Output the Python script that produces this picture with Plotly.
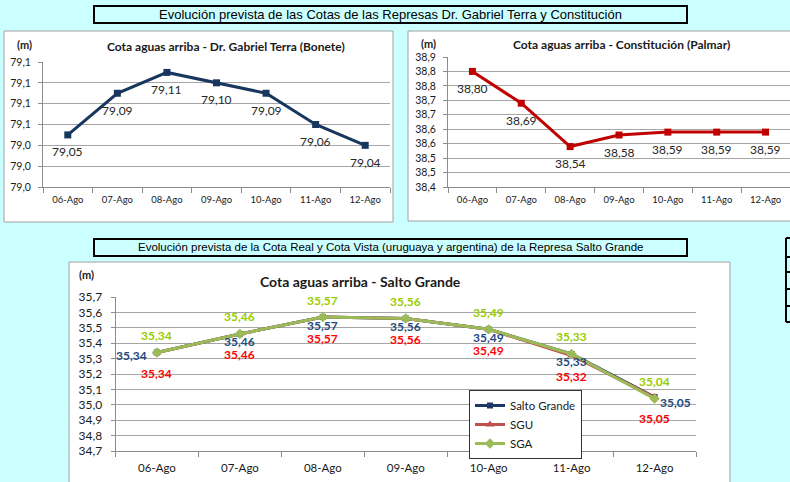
import plotly.graph_objects as go

W, H = 790, 482

# ---------------- data ----------------
DATES = ["06-Ago", "07-Ago", "08-Ago", "09-Ago", "10-Ago", "11-Ago", "12-Ago"]

BONETE = [79.05, 79.09, 79.11, 79.10, 79.09, 79.06, 79.04]
BONETE_TICKS = [79.00, 79.02, 79.04, 79.06, 79.08, 79.10, 79.12]
BONETE_TICK_LABELS = ["79,0", "79,0", "79,0", "79,1", "79,1", "79,1", "79,1"]

PALMAR = [38.80, 38.69, 38.54, 38.58, 38.59, 38.59, 38.59]
PALMAR_TICKS = [38.40, 38.45, 38.50, 38.55, 38.60, 38.65, 38.70, 38.75, 38.80, 38.85]
PALMAR_TICK_LABELS = ["38,4", "38,5", "38,5", "38,6", "38,6", "38,7", "38,7", "38,8", "38,8", "38,9"]

SALTO_GRANDE = [35.34, 35.46, 35.57, 35.56, 35.49, 35.33, 35.05]
SGU = [35.34, 35.46, 35.57, 35.56, 35.49, 35.32, 35.05]
SGA = [35.34, 35.46, 35.57, 35.56, 35.49, 35.33, 35.04]
SALTO_TICKS = [34.7, 34.8, 34.9, 35.0, 35.1, 35.2, 35.3, 35.4, 35.5, 35.6, 35.7]
SALTO_TICK_LABELS = ["34,7", "34,8", "34,9", "35,0", "35,1", "35,2", "35,3", "35,4", "35,5", "35,6", "35,7"]

TITLE_TOP = "Evolución prevista de las Cotas de las Represas Dr. Gabriel Terra y Constitución"
TITLE_BOTTOM = "Evolución prevista de la Cota Real y Cota Vista (uruguaya y argentina) de la Represa Salto Grande"
TITLE_BONETE = "Cota aguas arriba - Dr. Gabriel Terra (Bonete)"
TITLE_PALMAR = "Cota aguas arriba - Constitución (Palmar)"
TITLE_SALTO = "Cota aguas arriba - Salto Grande"

# ---------------- style ----------------
BG = "#CCFFFF"
GRID = "#A6A6A6"
AXIS = "#8C8C8C"
FONT = "Lato"
ARIAL = "Liberation Sans"


def px(x):
    return x / W


def py(y):
    return 1 - y / H


def fmt(v):
    return f"{v:.2f}".replace(".", ",")


fig = go.Figure()

fig.add_trace(go.Scatter(
    x=DATES, y=BONETE, mode="lines+markers", xaxis="x", yaxis="y",
    line=dict(color="#17375E", width=3), marker=dict(symbol="square", size=7),
    showlegend=False, cliponaxis=False, hoverinfo="skip"))
fig.add_trace(go.Scatter(
    x=DATES, y=PALMAR, mode="lines+markers", xaxis="x2", yaxis="y2",
    line=dict(color="#C00000", width=3), marker=dict(symbol="square", size=7),
    showlegend=False, cliponaxis=False, hoverinfo="skip"))
fig.add_trace(go.Scatter(
    x=DATES, y=SALTO_GRANDE, mode="lines+markers", xaxis="x3", yaxis="y3", name="Salto Grande",
    line=dict(color="#1F3864", width=3), marker=dict(symbol="square", size=6),
    cliponaxis=False, hoverinfo="skip"))
fig.add_trace(go.Scatter(
    x=DATES, y=SGU, mode="lines+markers", xaxis="x3", yaxis="y3", name="SGU",
    line=dict(color="#C0504D", width=3), marker=dict(symbol="triangle-up", size=8),
    cliponaxis=False, hoverinfo="skip"))
fig.add_trace(go.Scatter(
    x=DATES, y=SGA, mode="lines+markers", xaxis="x3", yaxis="y3", name="SGA",
    line=dict(color="#9BBB59", width=3), marker=dict(symbol="diamond", size=8),
    cliponaxis=False, hoverinfo="skip"))


def xax(domain, anchor, size, standoff):
    return dict(domain=domain, anchor=anchor, type="category", categoryorder="array",
                categoryarray=DATES, range=[-0.5, 6.5], tickson="boundaries",
                ticks="outside", ticklen=5, tickcolor=AXIS, showline=True, linecolor=AXIS,
                linewidth=1, showgrid=False, zeroline=False, fixedrange=True, automargin=False,
                tickfont=dict(family=FONT, size=size, color="#1a1a1a"),
                ticklabelstandoff=standoff)


def yax(domain, anchor, rng, vals, labels, size, standoff):
    return dict(domain=domain, anchor=anchor, range=rng, tickmode="array", tickvals=vals,
                ticktext=labels, ticks="outside", ticklen=4, tickcolor=AXIS, showline=True,
                linecolor=AXIS, linewidth=1, showgrid=True, gridcolor=GRID, gridwidth=1,
                zeroline=False, fixedrange=True, automargin=False,
                tickfont=dict(family=FONT, size=size, color="#1a1a1a"),
                ticklabelstandoff=standoff)


layout = dict(
    width=W, height=H, margin=dict(l=0, r=0, t=0, b=0, autoexpand=False),
    paper_bgcolor=BG, plot_bgcolor="white",
    separators=",.",
    xaxis=xax([px(43), px(390)], "y", 9.5, 4),
    yaxis=yax([py(187), py(62)], "x", [79.00, 79.12], BONETE_TICKS, BONETE_TICK_LABELS, 10.5, 5),
    xaxis2=xax([px(448), 1.0], "y2", 9.5, 4),
    yaxis2=yax([py(187), py(57)], "x2", [38.40, 38.85], PALMAR_TICKS, PALMAR_TICK_LABELS, 10.5, 5),
    xaxis3=xax([px(115.5), px(696)], "y3", 11.5, 6),
    yaxis3=yax([py(451), py(297)], "x3", [34.7, 35.7], SALTO_TICKS, SALTO_TICK_LABELS, 12, 6),
    legend=dict(x=px(469), y=py(390), xanchor="left", yanchor="top",
                bgcolor="white", bordercolor="#333333", borderwidth=1,
                font=dict(family=FONT, size=11.5, color="#1a1a1a"),
                tracegroupgap=0, itemwidth=30),
)

shapes = []
# chart boxes
for (x0, y0, x1, y1) in [(4, 31, 393, 222), (408, 31, 795, 221), (69, 262, 730, 490)]:
    shapes.append(dict(type="rect", xref="paper", yref="paper", x0=px(x0), x1=px(x1),
                       y0=py(y1), y1=py(y0), fillcolor="white",
                       line=dict(color="#A0A0A0", width=1), layer="below"))
# title boxes
for (x0, y0, x1, y1) in [(94, 6, 687, 23), (94, 239, 687, 256)]:
    shapes.append(dict(type="rect", xref="paper", yref="paper", x0=px(x0), x1=px(x1),
                       y0=py(y1), y1=py(y0), fillcolor=BG,
                       line=dict(color="black", width=2), layer="below"))
# partial table on the right edge
shapes.append(dict(type="line", xref="paper", yref="paper", x0=px(786), x1=px(786),
                   y0=py(322), y1=py(238), line=dict(color="black", width=2)))
for yy in [238, 257, 272, 289, 306, 322]:
    shapes.append(dict(type="line", xref="paper", yref="paper", x0=px(786), x1=px(791),
                       y0=py(yy), y1=py(yy), line=dict(color="black", width=2)))
layout["shapes"] = shapes

ann = []


def text(x, y, s, size, bold=False, family=FONT, color="#1a1a1a"):
    ann.append(dict(xref="paper", yref="paper", x=px(x), y=py(y), text=f"<b>{s}</b>" if bold else s,
                    showarrow=False, xanchor="center", yanchor="middle",
                    font=dict(family=family, size=size, color=color)))


text(390.5, 14.5, TITLE_TOP, 13, family=ARIAL, color="black")
text(390.5, 247.5, TITLE_BOTTOM, 11.5, family=ARIAL, color="black")
text(225.5, 47, TITLE_BONETE, 12, bold=True)
text(621, 44, TITLE_PALMAR, 12, bold=True)
text(360, 281, TITLE_SALTO, 14, bold=True)
text(24, 44, "(m)", 11, bold=True)
text(428, 43, "(m)", 11, bold=True)
text(86, 274, "(m)", 11, bold=True)

# data labels
for i, v in enumerate(BONETE):
    ann.append(dict(xref="x", yref="y", x=i, y=v, text=fmt(v), showarrow=False, yshift=-17,
                    font=dict(family=FONT, size=12, color="#262626")))
for i, v in enumerate(PALMAR):
    ann.append(dict(xref="x2", yref="y2", x=i, y=v, text=fmt(v), showarrow=False, yshift=-17,
                    font=dict(family=FONT, size=12, color="#262626")))

n = len(DATES)
for i, v in enumerate(SALTO_GRANDE):
    a = dict(xref="x3", yref="y3", x=i, y=v, text=f"<b>{fmt(v)}</b>", showarrow=False,
             font=dict(family=FONT, size=12, color="#1F497D"))
    if i == 0:
        a.update(xanchor="right", xshift=-8, yshift=-3)
    elif i == n - 1:
        a.update(xanchor="left", xshift=3, yshift=-5)
    else:
        a.update(yshift=-8)
    ann.append(a)
for i, v in enumerate(SGU):
    ann.append(dict(xref="x3", yref="y3", x=i, y=v, text=f"<b>{fmt(v)}</b>", showarrow=False,
                    yshift=-21, font=dict(family=FONT, size=12, color="#FF0000")))
for i, v in enumerate(SGA):
    ann.append(dict(xref="x3", yref="y3", x=i, y=v, text=f"<b>{fmt(v)}</b>", showarrow=False,
                    yshift=17, font=dict(family=FONT, size=12, color="#99CC00")))

layout["annotations"] = ann
fig.update_layout(**layout)
fig.write_html(
    "out.html",
    config={"displayModeBar": False, "staticPlot": True},
    post_script="document.body.style.margin='0';document.body.style.padding='0';"
                "document.body.style.background='" + BG + "';",
)
